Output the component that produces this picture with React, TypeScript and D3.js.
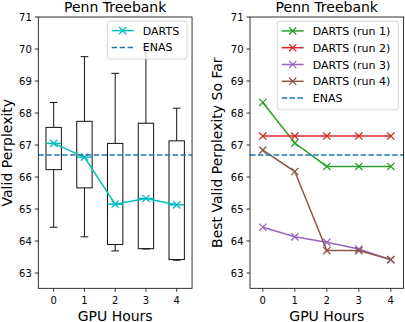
import * as d3 from 'd3';
import React from 'react';

// GPU hours on the x axis
const hours = [0, 1, 2, 3, 4];
const yTicks = [63, 64, 65, 66, 67, 68, 69, 70, 71];

// left panel: spread of valid perplexity per hour
const boxQ1 = [66.23, 65.66, 63.89, 63.76, 63.42];
const boxQ3 = [67.55, 67.74, 67.05, 67.68, 67.13];
const whiskerLow = [64.43, 64.13, 63.69, 63.75, 63.4];
const whiskerHigh = [68.33, 69.76, 69.24, 70.05, 68.15];
const dartsMedian = [67.05, 66.62, 65.15, 65.33, 65.13];
const enasValue = 66.69;

// right panel: best valid perplexity so far
const run1 = [68.33, 67.06, 66.33, 66.33, 66.33];
const run2 = [67.28, 67.28, 67.28, 67.28, 67.28];
const run3 = [64.43, 64.13, 63.96, 63.75, 63.41];
const run4 = [66.84, 66.17, 63.7, 63.7, 63.42];
const runNames = ['DARTS (run 1)', 'DARTS (run 2)', 'DARTS (run 3)', 'DARTS (run 4)'];

const font = 'DejaVu Sans, sans-serif';
const cyan = '#00bfbf';
const blue = '#1f77b4';
const runColors = ['#2ca02c', '#d62728', '#9467bd', '#8c564b'];

const W = 405, H = 322;
const top = 17, bottom = 288.3;

const y = d3.scaleLinear().domain([63, 71]).range([273, 17]);
const xL = d3.scaleLinear().domain([-0.5, 4.5]).range([38.3, 192.05]);
const xR = d3.scaleLinear().domain([-0.4, 4.4]).range([250, 403.6]);

const XMark = ({ cx, cy, color }: { cx: number; cy: number; color: string }) => {
    const s = 3.6;
    return (
        <path d={`M${cx - s},${cy - s}L${cx + s},${cy + s}M${cx - s},${cy + s}L${cx + s},${cy - s}`}
            stroke={color} strokeWidth={1.3} fill="none" />
    );
};

const Axes = ({ x, left, right, title, ylabel, ylabelX }: any) => (
    <g>
        <text x={(left + right) / 2} y={11.5} textAnchor="middle" fontSize={14} fontFamily={font}>{title}</text>
        {yTicks.map((t) => (
            <g key={t}>
                <line x1={left - 3.5} x2={left} y1={y(t)} y2={y(t)} stroke="#000" strokeWidth={0.8} />
                <text x={left - 6.5} y={y(t) + 3.6} textAnchor="end" fontSize={10} fontFamily={font}>{t}</text>
            </g>
        ))}
        {hours.map((h) => (
            <g key={h}>
                <line x1={x(h)} x2={x(h)} y1={bottom} y2={bottom + 3.5} stroke="#000" strokeWidth={0.8} />
                <text x={x(h)} y={304} textAnchor="middle" fontSize={10} fontFamily={font}>{h}</text>
            </g>
        ))}
        <text x={(left + right) / 2} y={320.5} textAnchor="middle" fontSize={14} fontFamily={font}>GPU Hours</text>
        <text transform={`translate(${ylabelX},${(top + bottom) / 2}) rotate(-90)`} textAnchor="middle"
            fontSize={14} fontFamily={font}>{ylabel}</text>
    </g>
);

const Frame = ({ left, right }: { left: number; right: number }) => (
    <rect x={left} y={top} width={right - left} height={bottom - top} fill="none" stroke="#000" strokeWidth={0.8} />
);

const Legend = ({ x0, y0, width, items }: any) => {
    const rowH = 16.8;
    const h = items.length * rowH + 4.5;
    return (
        <g>
            <rect x={x0} y={y0} width={width} height={h} rx={2.5} fill="#fff" fillOpacity={0.8} stroke="#cccccc" strokeWidth={0.8} />
            {items.map((it: any, i: number) => {
                const cy = y0 + 9.6 + i * rowH;
                return (
                    <g key={it.label}>
                        <line x1={x0 + 4.4} x2={x0 + 26.4} y1={cy} y2={cy} stroke={it.color} strokeWidth={1.5}
                            strokeDasharray={it.dashed ? '5.5,2.4' : undefined} />
                        {!it.dashed && <XMark cx={x0 + 15.4} cy={cy} color={it.color} />}
                        <text x={x0 + 35.5} y={cy + 4} fontSize={11} fontFamily={font}>{it.label}</text>
                    </g>
                );
            })}
        </g>
    );
};

export default function App() {
    const boxW = xL(0.25) - xL(0);
    const capW = xL(0.125) - xL(0);
    const leftLine = d3.line<number>().x((_, i) => xL(hours[i])).y((d) => y(d));
    const rightLine = d3.line<number>().x((_, i) => xR(hours[i])).y((d) => y(d));
    const runs = [run1, run2, run3, run4];

    return (
        <svg width={W} height={H} style={{ position: 'absolute', left: 0, top: 0, background: '#fff' }}>
            {/* left panel */}
            <Axes x={xL} left={38.3} right={192.05} title="Penn Treebank" ylabel="Valid Perplexity" ylabelX={11.5} />
            {hours.map((h, i) => {
                const cx = xL(h);
                return (
                    <g key={h} stroke="#111" strokeWidth={1} fill="none">
                        <rect x={cx - boxW} y={y(boxQ3[i])} width={boxW * 2} height={y(boxQ1[i]) - y(boxQ3[i])} />
                        <line x1={cx} x2={cx} y1={y(boxQ3[i])} y2={y(whiskerHigh[i])} />
                        <line x1={cx} x2={cx} y1={y(boxQ1[i])} y2={y(whiskerLow[i])} />
                        <line x1={cx - capW} x2={cx + capW} y1={y(whiskerHigh[i])} y2={y(whiskerHigh[i])} />
                        <line x1={cx - capW} x2={cx + capW} y1={y(whiskerLow[i])} y2={y(whiskerLow[i])} />
                        <line x1={cx - boxW} x2={cx + boxW} y1={y(dartsMedian[i])} y2={y(dartsMedian[i])} stroke={cyan} strokeWidth={1.5} />
                    </g>
                );
            })}
            <path d={leftLine(dartsMedian) || ''} stroke={cyan} strokeWidth={1.5} fill="none" />
            {dartsMedian.map((v, i) => <XMark key={i} cx={xL(hours[i])} cy={y(v)} color={cyan} />)}
            <line x1={38.3} x2={192.05} y1={y(enasValue)} y2={y(enasValue)} stroke={blue} strokeWidth={1.5} strokeDasharray="5.5,2.4" />
            <Frame left={38.3} right={192.05} />
            <Legend x0={107.3} y0={21} width={79.7}
                items={[{ label: 'DARTS', color: cyan }, { label: 'ENAS', color: blue, dashed: true }]} />

            {/* right panel */}
            <Axes x={xR} left={250} right={403.6} title="Penn Treebank" ylabel="Best Valid Perplexity So Far" ylabelX={221.7} />
            {runs.map((r, k) => (
                <g key={k}>
                    <path d={rightLine(r) || ''} stroke={runColors[k]} strokeWidth={1.5} fill="none" />
                    {r.map((v, i) => <XMark key={i} cx={xR(hours[i])} cy={y(v)} color={runColors[k]} />)}
                </g>
            ))}
            <line x1={250} x2={403.6} y1={y(enasValue)} y2={y(enasValue)} stroke={blue} strokeWidth={1.5} strokeDasharray="5.5,2.4" />
            <Frame left={250} right={403.6} />
            <Legend x0={277.3} y0={21.3} width={121}
                items={[...runNames.map((n, k) => ({ label: n, color: runColors[k] })), { label: 'ENAS', color: blue, dashed: true }]} />
        </svg>
    );
}
